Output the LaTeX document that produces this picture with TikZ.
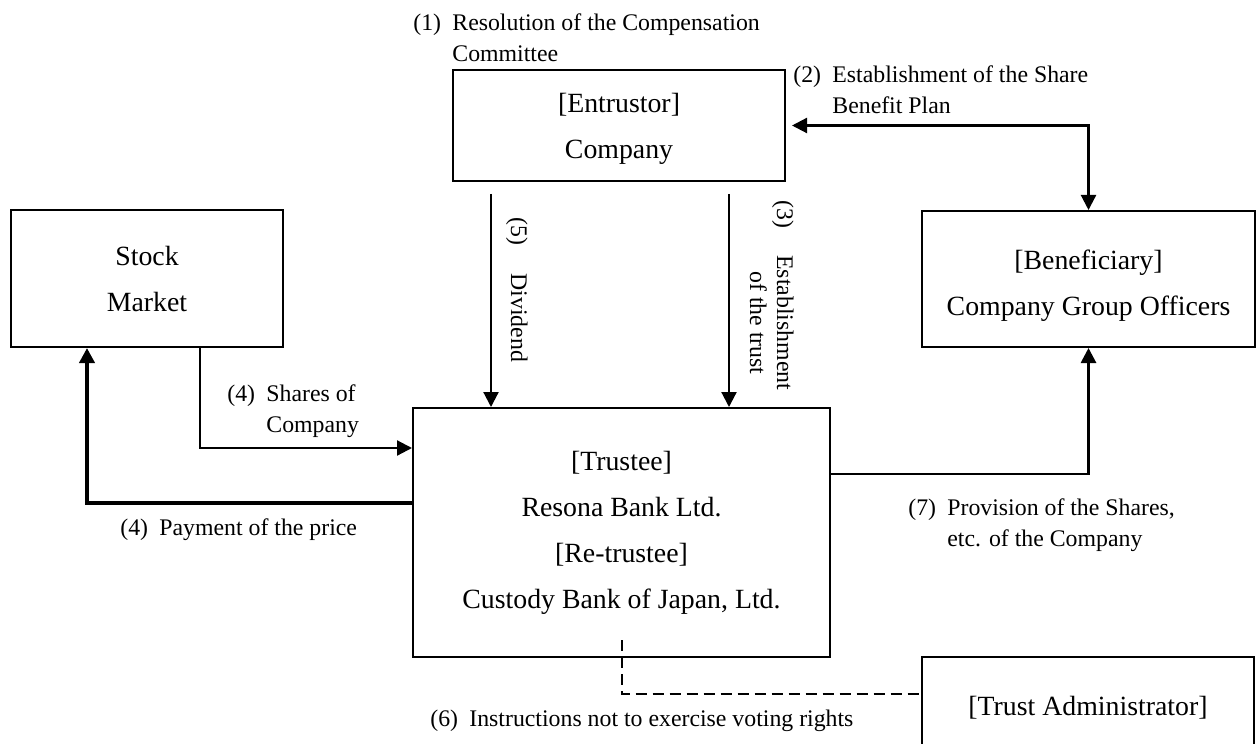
\documentclass[tikz,border=0pt]{standalone}
\usepackage{fontspec}
\setmainfont{Liberation Serif}
\usetikzlibrary{arrows.meta,calc}
\newcommand{\boxfont}{\fontsize{13.9}{23}\selectfont}
\newcommand{\lblfont}{\fontsize{11.9}{15.5}\selectfont}
\newcommand{\hang}[3]{\makebox[#1][l]{#2}\begin{tabular}[t]{@{}l@{}}#3\end{tabular}}
\tikzset{
  box/.style={draw,line width=1pt,inner sep=0pt,align=center,font=\boxfont},
  conn/.style={line width=1.1pt},
  arr/.style={conn,-{Triangle[length=7.5pt,width=7.5pt]}},
  lbl/.style={inner sep=0pt,anchor=base west,font=\lblfont},
}
\begin{document}
\begin{tikzpicture}[x=0.5pt,y=-0.5pt]
\path[use as bounding box] (0,0) rectangle (1256,743);
\fill[white] (0,0) rectangle (1256,743);
\clip (0,0) rectangle (1256,743);

% boxes
\node[box,minimum width=166pt,minimum height=55.5pt] (ent) at (619,125.5) {\rule{0pt}{13pt}{[Entrustor]}\\Company};
\node[box,minimum width=136pt,minimum height=68.5pt] (stock) at (147,278.5) {Stock\\Market};
\node[box,minimum width=166.5pt,minimum height=68pt] (ben) at (1088.5,279) {\rule{0pt}{16.5pt}{[Beneficiary]}\\Company Group Officers};
\node[box,minimum width=208.5pt,minimum height=124.5pt] (tru) at (621.5,532.5) {{[Trustee]}\\Resona Bank Ltd.\\{[Re-trustee]}\\Custody Bank of Japan, Ltd.};
\node[box,minimum width=166pt,minimum height=51pt] (ta) at (1088,708) {{[Trust Administrator]}};

% (2) two-headed
\draw[conn,{Triangle[length=7.5pt,width=7.5pt]}-{Triangle[length=7.5pt,width=7.5pt]},shorten <=3pt] (ent.east) -| (ben.north);

% (5) and (3)
\coordinate (a5) at ($(ent.south west)+(39,12)$);
\coordinate (a3) at ($(ent.south west)+(277,12)$);
\draw[arr] (a5) -- (a5 |- tru.north);
\draw[arr] (a3) -- (a3 |- tru.north);

% (4) shares
\draw[arr] ($(stock.south west)+(190,0)$) |- ($(tru.north west)+(0,41)$);
% (4) payment
\draw[arr,line width=2pt] ($(tru.north west)+(0,96)$) -| ($(stock.south west)+(77,0)$);
% (7)
\draw[arr,line width=1.4pt] ($(tru.north east)+(0,67)$) -| (ben.south);
% (6) dashed
\coordinate (d6) at ($(tru.south)+(0,-18)$);
\draw[conn,line width=1pt,dash pattern=on 5.5pt off 3pt] (d6) |- ($(ta.north west)+(0,38)$);

% labels
\node[lbl] (l1) at (413,31) {\hang{19.5pt}{(1)}{Resolution of the Compensation\\Committee}};
\node[lbl] (l2) at (793,83) {\hang{19.5pt}{(2)}{Establishment of the Share\\Benefit Plan}};
\node[lbl,rotate=-90] (l3) at (777,200) {\makebox[27.5pt][l]{(3)}\begin{tabular}[t]{@{}c@{}}Establishment\\[-2pt]of the trust\end{tabular}};
\node[lbl,rotate=-90] (l5) at (511,217) {\makebox[28pt][l]{(5)}Dividend};
\node[lbl] (l4a) at (227,401) {\hang{19.5pt}{(4)}{Shares of\\Company}};
\node[lbl] (l4b) at (120,535) {\hang{19.5pt}{(4)}{Payment of the price}};
\node[lbl] (l7) at (908,515) {\hang{19.5pt}{(7)}{Provision of the Shares,\\etc. of the Company}};
\node[lbl] (l6) at (430,726) {\hang{19.5pt}{(6)}{Instructions not to exercise voting rights}};
\end{tikzpicture}
\end{document}
